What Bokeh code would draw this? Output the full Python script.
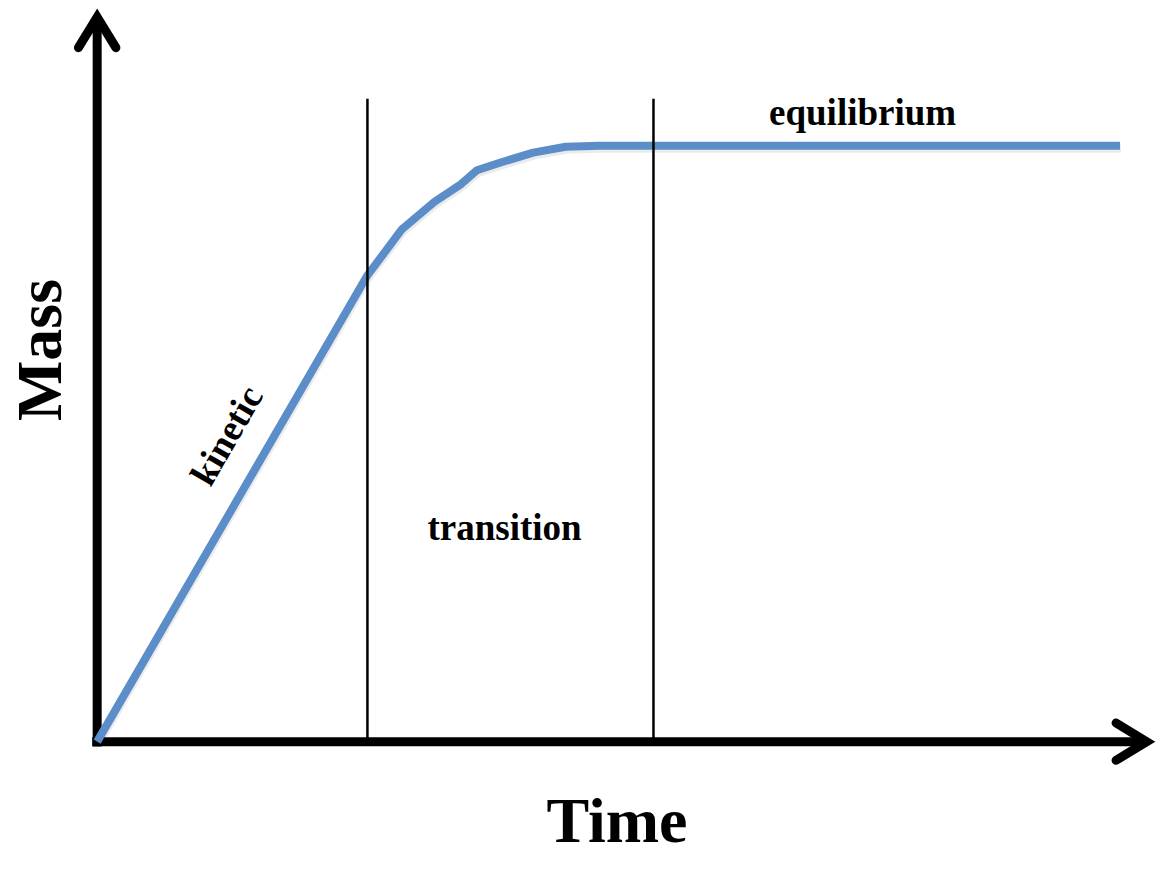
from bokeh.plotting import figure
from bokeh.models import Range1d, ColumnDataSource
from bokeh.core.properties import value
from bokeh.embed import file_html
from bokeh.resources import INLINE

# ---- data (arbitrary units) ----
time = [0.0, 2.74, 3.09, 3.42, 3.69, 3.85, 4.09, 4.42, 4.75, 5.09, 5.64, 10.37]
mass = [0.0, 4.75, 5.22, 5.50, 5.68, 5.82, 5.90, 6.00, 6.06, 6.07, 6.07, 6.07]
phase_bounds = [2.74, 5.64]
phase_top = 6.55
phase_names = ["kinetic", "transition", "equilibrium"]
phase_label_x = [1.31, 4.13, 7.76]
phase_label_y = [3.12, 2.18, 6.41]
phase_label_angle = [60, 0, 0]
x_label = "Time"
y_label = "Mass"

# ---- layout / style ----
W, H = 1158, 855
X0, X1 = -0.98, 10.76
Y0, Y1 = -1.16, 7.55
FONT = value("Liberation Serif")
BLUE = "#5b8ec9"
AX_W = 9
x_tip = 10.64
y_tip = 7.38
head_len, head_half = 0.31, 0.19

p = figure(width=W, height=H, x_range=Range1d(X0, X1), y_range=Range1d(Y0, Y1),
           output_backend="svg", toolbar_location=None, min_border=0,
           outline_line_color=None)
p.axis.visible = False
p.grid.visible = False

# axes shafts
p.segment(x0=[0, -0.05], y0=[-0.05, 0], x1=[0, x_tip], y1=[y_tip, 0],
          line_color="black", line_width=AX_W, line_cap="butt")
# arrow heads
p.multi_line(xs=[[-head_half, 0, head_half], [x_tip - head_len, x_tip, x_tip - head_len]],
             ys=[[y_tip - head_len, y_tip, y_tip - head_len], [head_half, 0, -head_half]],
             line_color="black", line_width=AX_W, line_cap="round", line_join="miter")

# curve shadow + curve
p.line([t + 0.01 for t in time], [m - 0.03 for m in mass], line_color="black",
       line_alpha=0.08, line_width=8, line_join="round")
p.line(time, mass, line_color=BLUE, line_width=8, line_join="round", line_cap="butt")

# phase boundaries
p.segment(x0=phase_bounds, y0=[0] * len(phase_bounds), x1=phase_bounds,
          y1=[phase_top] * len(phase_bounds), line_color="black", line_width=2.5)

# phase labels
src = ColumnDataSource(dict(x=phase_label_x, y=phase_label_y, t=phase_names,
                            a=phase_label_angle))
p.text(x="x", y="y", text="t", angle="a", angle_units="deg", source=src,
       text_font=FONT, text_font_style="bold", text_font_size="37px",
       text_align="center", text_baseline="alphabetic", text_color="black")

# axis titles
p.text(x=[5.27], y=[-0.80], text=[x_label], text_font=FONT, text_font_style="bold",
       text_font_size="64px", text_align="center", text_baseline="alphabetic",
       text_color="black")
p.text(x=[-0.58], y=[3.99], text=[y_label], angle=90, angle_units="deg",
       text_font=FONT, text_font_style="bold",
       text_font_size="64px", text_align="center", text_baseline="alphabetic",
       text_color="black")

open("out.html", "w").write(file_html(p, INLINE))
